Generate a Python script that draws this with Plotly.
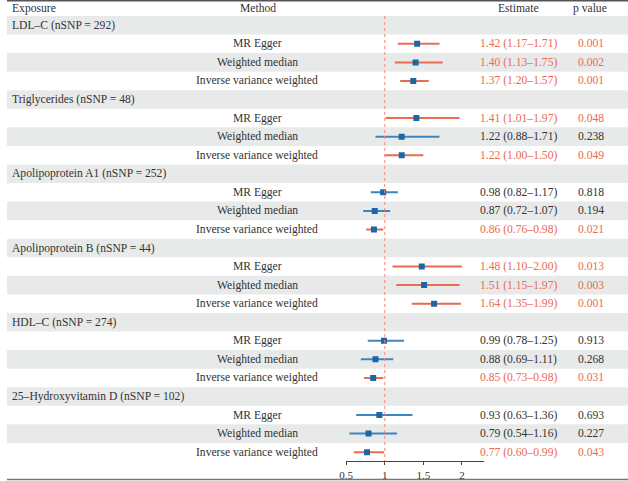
import plotly.graph_objects as go

# ---------------- data ----------------
exposures = ["LDL–C (nSNP = 292)", "Triglycerides (nSNP = 48)", "Apolipoprotein A1 (nSNP = 252)",
             "Apolipoprotein B (nSNP = 44)", "HDL–C (nSNP = 274)", "25–Hydroxyvitamin D (nSNP = 102)"]
methods = ["MR Egger", "Weighted median", "Inverse variance weighted"]
estimate = [1.42, 1.40, 1.37, 1.41, 1.22, 1.22, 0.98, 0.87, 0.86,
            1.48, 1.51, 1.64, 0.99, 0.88, 0.85, 0.93, 0.79, 0.77]
lower = [1.17, 1.13, 1.20, 1.01, 0.88, 1.00, 0.82, 0.72, 0.76,
         1.10, 1.15, 1.35, 0.78, 0.69, 0.73, 0.63, 0.54, 0.60]
upper = [1.71, 1.75, 1.57, 1.97, 1.71, 1.50, 1.17, 1.07, 0.98,
         2.00, 1.97, 1.99, 1.25, 1.11, 0.98, 1.36, 1.16, 0.99]
pvalues = ["0.001", "0.002", "0.001", "0.048", "0.238", "0.049", "0.818", "0.194", "0.021",
           "0.013", "0.003", "0.001", "0.913", "0.268", "0.031", "0.693", "0.227", "0.043"]
tick_vals = [0.5, 1, 1.5, 2]
tick_text = ["0.5", "1", "1.5", "2"]

# ---------------- style ----------------
W, H = 628, 481
RED = "#EA6A52"
BLUE = "#3C86C0"
SQ = "#1B66A3"
TXT = "#333333"
GRAY = "#E8EAEA"
FONT = "Liberation Serif"
FS = 11.6

top_px = 16.0
pitch = 18.56
n_rows = len(exposures) * 4
axis_px = top_px + pitch * n_rows
y_top = -top_px / pitch - 0.5
y_bot = n_rows - 0.5

def px(x):
    return x / W

def py(y):
    return 1 - y / H

fig = go.Figure()
shapes = []
annotations = []

# row bands
for r in range(n_rows):
    if r % 2 == 0:
        shapes.append(dict(type="rect", xref="paper", yref="y", x0=0, x1=1,
                           y0=r - 0.5, y1=r + 0.5, fillcolor=GRAY, line=dict(width=0),
                           layer="below"))

# rows
sig_x, sig_y, sig_lo, sig_hi = [], [], [], []
ns_x, ns_y, ns_lo, ns_hi = [], [], [], []
k = 0
for g, exp in enumerate(exposures):
    r0 = g * 4
    annotations.append(dict(x=px(3), y=r0, xref="paper", yref="y", text=exp,
                            showarrow=False, xanchor="left", yanchor="middle",
                            font=dict(family=FONT, size=FS, color=TXT)))
    for m, meth in enumerate(methods):
        r = r0 + 1 + m
        sig = float(pvalues[k]) < 0.05
        col = RED if sig else TXT
        annotations.append(dict(x=px(253), y=r, xref="paper", yref="y", text=meth,
                                showarrow=False, xanchor="center", yanchor="middle",
                                font=dict(family=FONT, size=FS, color=TXT)))
        est_txt = f"{estimate[k]:.2f} ({lower[k]:.2f}–{upper[k]:.2f})"
        annotations.append(dict(x=px(517), y=r, xref="paper", yref="y", text=est_txt,
                                showarrow=False, xanchor="center", yanchor="middle",
                                font=dict(family=FONT, size=FS, color=col)))
        annotations.append(dict(x=px(591), y=r, xref="paper", yref="y", text=pvalues[k],
                                showarrow=False, xanchor="center", yanchor="middle",
                                font=dict(family=FONT, size=FS, color=col)))
        if sig:
            sig_x.append(estimate[k]); sig_y.append(r)
            sig_lo.append(estimate[k] - lower[k]); sig_hi.append(upper[k] - estimate[k])
        else:
            ns_x.append(estimate[k]); ns_y.append(r)
            ns_lo.append(estimate[k] - lower[k]); ns_hi.append(upper[k] - estimate[k])
        k += 1

# header
for txt, x, anc in [("Exposure", 3, "left"), ("Method", 254, "center"),
                    ("Estimate", 517, "center"), ("p value", 590, "center")]:
    annotations.append(dict(x=px(x), y=py(8), xref="paper", yref="paper", text=txt,
                            showarrow=False, xanchor=anc, yanchor="middle",
                            font=dict(family=FONT, size=FS, color=TXT)))

# reference line at 1
shapes.append(dict(type="line", xref="x", yref="y", x0=1, x1=1, y0=-0.5, y1=y_bot,
                   line=dict(color="#F08A80", width=1, dash="dot"), layer="above"))
# top and bottom rules
shapes.append(dict(type="line", xref="paper", yref="paper", x0=0, x1=1, y0=py(0.8), y1=py(0.8),
                   line=dict(color="#555555", width=1.6)))
shapes.append(dict(type="line", xref="paper", yref="paper", x0=0, x1=1, y0=py(479.5), y1=py(479.5),
                   line=dict(color="#777777", width=1.6)))

for xs, ys, lo, hi, col in [(sig_x, sig_y, sig_lo, sig_hi, RED), (ns_x, ns_y, ns_lo, ns_hi, BLUE)]:
    fig.add_trace(go.Scatter(
        x=xs, y=ys, mode="markers",
        marker=dict(symbol="square", size=6, color=SQ, line=dict(width=0)),
        error_x=dict(type="data", symmetric=False, array=hi, arrayminus=lo,
                     color=col, thickness=2, width=0),
        showlegend=False, hoverinfo="skip"))

x0p, x1p = 343.0, 482.0
unit = (382.0 - 343.0) / 0.5
x_lo = 0.5
x_hi = 0.5 + (x1p - x0p) / unit

fig.update_layout(
    width=W, height=H,
    margin=dict(l=0, r=0, t=0, b=0),
    paper_bgcolor="white", plot_bgcolor="rgba(0,0,0,0)",
    shapes=shapes, annotations=annotations,
    xaxis=dict(domain=[px(x0p), px(x1p)], range=[x_lo, x_hi], showgrid=False, zeroline=False,
               showline=True, linecolor="#444444", linewidth=1, ticks="outside", ticklen=3,
               tickcolor="#444444", tickvals=tick_vals, ticktext=tick_text,
               tickfont=dict(family=FONT, size=11, color=TXT), fixedrange=True),
    yaxis=dict(domain=[(H - axis_px) / H, 1], range=[y_bot, y_top], showgrid=False,
               zeroline=False, showticklabels=False, showline=False, fixedrange=True),
)

fig.write_html("out.html")
